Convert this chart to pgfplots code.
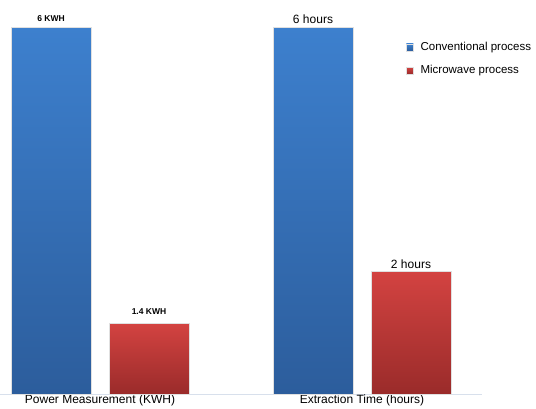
\documentclass[border=0pt]{standalone}
\usepackage{pgfplots}
\pgfplotsset{compat=1.18}
\usepackage{fontspec}
\setmainfont{Liberation Sans}
\definecolor{bluetop}{HTML}{3D80CE}
\definecolor{bluebot}{HTML}{2C5D9C}
\definecolor{redtop}{HTML}{D34341}
\definecolor{redbot}{HTML}{9A2B2A}
\definecolor{axisgray}{HTML}{D8E0EC}
\begin{document}
\begin{tikzpicture}
\path[use as bounding box] (0pt,0pt) rectangle (536pt,408pt);
\begin{axis}[
  at={(0pt,14pt)}, anchor=south west,
  scale only axis, width=482pt, height=367pt,
  xmin=-0.3817, xmax=1.458, ymin=0, ymax=6,
  enlargelimits=false, clip=false,
  axis x line*=bottom, hide y axis,
  x axis line style={draw=axisgray, line width=1pt, -},
  xtick={0,1},
  xticklabels={Power Measurement (KWH), Extraction Time (hours)},
  major tick length=0pt,
  ticklabel style={font=\fontsize{12}{13}\selectfont, inner sep=0.5pt, yshift=-0.5pt},
  ytick=\empty,
  ybar, bar width=80pt,
  legend style={at={(0.836,0.967)}, anchor=north west, draw=none, fill=none,
    font=\fontsize{11.5}{14}\selectfont, row sep=11.5pt,
    nodes={inner sep=1pt}},
  legend cell align=left,
  legend image code/.code={\fill[#1] (2pt,-3.5pt) rectangle (9pt,3.5pt);},
  every node near coord/.append style={text=black},
]
\addplot[ybar, bar shift=-49pt, draw=black!12, line width=0.4pt, top color=bluetop, bottom color=bluebot,
  nodes near coords={6 KWH}, every node near coord/.append style={font=\bfseries\fontsize{8.5}{10}\selectfont, yshift=2pt}]
  coordinates {(0,6)};
\addlegendentry{\hspace{6pt}Conventional process}
\addplot[ybar, bar shift=49pt, draw=black!12, line width=0.4pt, top color=redtop, bottom color=redbot,
  nodes near coords={1.4 KWH}, every node near coord/.append style={font=\bfseries\fontsize{8.5}{10}\selectfont, yshift=6pt}]
  coordinates {(0,1.15)};
\addlegendentry{\hspace{6pt}Microwave process}
\addplot[ybar, forget plot, bar shift=-49pt, draw=black!12, line width=0.4pt, top color=bluetop, bottom color=bluebot,
  nodes near coords={6 hours}, every node near coord/.append style={font=\fontsize{12}{14}\selectfont, yshift=0pt}]
  coordinates {(1,6)};
\addplot[ybar, forget plot, bar shift=49pt, draw=black!12, line width=0.4pt, top color=redtop, bottom color=redbot,
  nodes near coords={2 hours}, every node near coord/.append style={font=\fontsize{12}{14}\selectfont, yshift=0pt}]
  coordinates {(1,2)};
\end{axis}
\end{tikzpicture}
\end{document}
